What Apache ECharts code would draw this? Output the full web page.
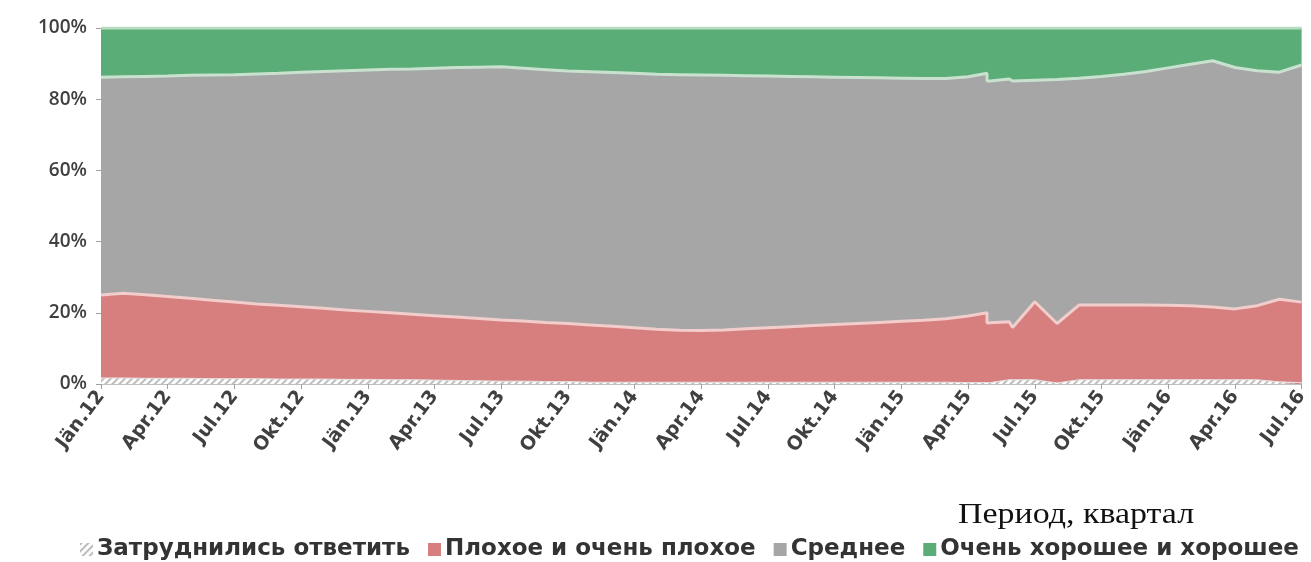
<!DOCTYPE html>
<html>
<head>
<meta charset="utf-8">
<script src="https://cdn.jsdelivr.net/npm/echarts@6/dist/echarts.min.js"></script>
<style>
html,body{margin:0;padding:0;background:#fff;}
#chart{width:1311px;height:562px;}
</style>
</head>
<body>
<div id="chart"></div>
<script>
// Month offsets from Jän.12 (fractional / repeated entries = abrupt steps)
const period = [0,1,2,3,4,5,6,7,8,9,10,11,12,13,14,15,16,17,18,19,20,21,22,23,24,25,26,27,28,29,
  30,31,32,33,34,35,36,37,38,39,39.85,39.85,40,40.85,41,42,43,44,45,46,47,48,49,50,51,52,53,54];

const tickLabels = ['Jän.12','Apr.12','Jul.12','Okt.12','Jän.13','Apr.13','Jul.13','Okt.13',
  'Jän.14','Apr.14','Jul.14','Okt.14','Jän.15','Apr.15','Jul.15','Okt.15','Jän.16','Apr.16','Jul.16'];

const seriesNames = ['Затруднились ответить','Плохое и очень плохое','Среднее','Очень хорошее и хорошее'];

const hard = [1.7,1.7,1.6,1.6,1.6,1.5,1.5,1.5,1.4,1.4,1.4,1.3,1.3,1.2,1.2,1.1,1.0,0.9,0.8,0.8,
  0.7,0.7,0.5,0.5,0.5,0.5,0.5,0.5,0.5,0.5,0.5,0.5,0.5,0.5,0.5,0.5,0.5,0.5,0.5,0.4,
  0.4,0.4,0.4,1.2,1.2,1.2,0.3,1.2,1.2,1.2,1.2,1.2,1.2,1.2,1.2,1.2,0.6,0.4];

const bad = [23.3,23.8,23.5,23.0,22.5,22.0,21.5,21.0,20.7,20.3,19.9,19.5,19.1,18.8,18.4,18.1,17.8,17.5,17.2,16.9,
  16.6,16.3,16.1,15.7,15.3,14.9,14.6,14.5,14.7,15.0,15.3,15.6,15.9,16.2,16.5,16.8,17.1,17.4,17.8,18.7,
  19.6,16.7,16.8,16.3,14.7,21.9,16.7,21.0,21.0,21.0,21.0,20.9,20.8,20.4,19.9,20.8,23.2,22.6];

const average = [61.2,60.8,61.3,61.9,62.6,63.3,63.9,64.6,65.2,65.9,66.5,67.2,67.8,68.4,68.9,69.5,70.1,70.6,71.1,71.0,
  71.0,70.9,71.1,71.3,71.5,71.6,71.8,71.8,71.5,71.1,70.7,70.3,69.9,69.5,69.1,68.7,68.3,67.9,67.5,67.2,
  67.3,68.0,67.9,68.2,69.2,62.2,68.5,63.7,64.2,64.8,65.6,66.7,67.8,69.2,67.8,66.0,63.8,66.6];

const good = [13.8,13.7,13.6,13.5,13.3,13.2,13.1,12.9,12.7,12.4,12.2,12.0,11.8,11.6,11.5,11.3,11.1,11.0,10.9,11.3,
  11.7,12.1,12.3,12.5,12.7,13.0,13.1,13.2,13.3,13.4,13.5,13.6,13.7,13.8,13.9,14.0,14.1,14.2,14.2,13.7,
  12.7,14.9,14.9,14.3,14.9,14.7,14.5,14.1,13.6,13.0,12.2,11.2,10.2,9.2,11.1,12.0,12.4,10.4];

const yTicks = [0,20,40,60,80,100];

const values = [hard, bad, average, good];
// Stack the layers: each area is drawn from 0 up to the running total of the layers below it.
const totals = values.map((_, k) => period.map((p, i) => {
  let s = 0;
  for (let j = 0; j <= k; j++) s += values[j][i];
  return [p, Math.round(s * 10) / 10];
}));

const chart = echarts.init(document.getElementById('chart'));

const fills = ['#ffffff', '#d77f7e', '#a6a6a6', '#5bad77'];
const edges = ['#e6dede', '#f1cdcc', '#c9e2cf', '#b8dcc2'];
const hatch = {symbol: 'rect', symbolSize: 1, dashArrayX: [1, 0], dashArrayY: [2, 3], rotation: -Math.PI / 4, color: '#bdbdbd'};

const series = values.map((vals, k) => ({
  name: seriesNames[k],
  type: 'line',
  symbol: 'none',
  showSymbol: false,
  z: 10 - k,
  data: totals[k],
  itemStyle: Object.assign({color: fills[k]}, k === 0 ? {decal: hatch} : {}),
  lineStyle: {color: edges[k], width: k === 0 ? 1 : 3},
  areaStyle: Object.assign({color: fills[k], opacity: 1, origin: 'start'}, k === 0 ? {decal: hatch} : {}),
  emphasis: {disabled: true}
}));

chart.setOption({
  animation: false,
  backgroundColor: '#ffffff',
  grid: {left: 101, right: 9, top: 28, bottom: 178, containLabel: false},
  xAxis: {
    type: 'value',
    min: 0,
    max: 54,
    interval: 3,
    axisLine: {show: true, lineStyle: {color: '#bfbfbf', width: 1}},
    axisTick: {show: true, length: 5, lineStyle: {color: '#a0a0a0'}},
    splitLine: {show: false},
    axisLabel: {
      rotate: 53,
      margin: 9,
      color: '#404040',
      fontFamily: 'DejaVu Sans',
      fontWeight: 'bold',
      fontSize: 19,
      formatter: v => tickLabels[Math.round(v / 3)] || ''
    }
  },
  yAxis: {
    type: 'value',
    min: 0,
    max: 100,
    interval: 20,
    axisLine: {show: true, lineStyle: {color: '#bfbfbf', width: 1}},
    axisTick: {show: true, length: 5, lineStyle: {color: '#a0a0a0'}},
    splitLine: {show: false},
    axisLabel: {
      margin: 14,
      color: '#404040',
      fontFamily: 'Open Sans',
      fontWeight: 600,
      fontSize: 19,
      formatter: v => yTicks.includes(v) ? v + '%' : ''
    }
  },
  legend: {
    left: 75,
    top: 533,
    icon: 'rect',
    itemWidth: 13,
    itemHeight: 13,
    itemGap: 18,
    selectedMode: false,
    itemStyle: {borderWidth: 0},
    textStyle: {color: '#333333', fontFamily: 'DejaVu Sans', fontWeight: 'bold', fontSize: 23, padding: [0, 0, 0, -1]},
    data: seriesNames
  },
  graphic: [{
    type: 'text',
    x: 958,
    y: 501,
    scaleX: 1.17,
    style: {text: 'Период, квартал', font: '29px "Liberation Serif"', fill: '#111111', verticalAlign: 'top'}
  }],
  series: series
});
</script>
</body>
</html>
